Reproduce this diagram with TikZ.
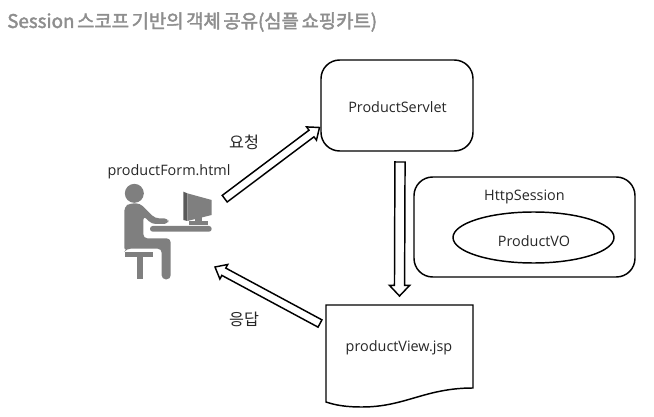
\documentclass[tikz,border=0pt]{standalone}
\usepackage{fontspec}
\usetikzlibrary{calc,shapes.geometric}
\setmainfont{Open Sans}
\newfontfamily\krfont{Noto Sans CJK KR}
\newfontfamily\krtitle[FakeBold=2.2]{Noto Sans CJK KR}
\definecolor{icongray}{HTML}{7F7F7F}
\definecolor{icondark}{HTML}{5A5A5A}
\definecolor{titlegray}{HTML}{8E8E8E}
\tikzset{
  box/.style={draw=black,line width=1.1pt,rounded corners=14pt,inner sep=0pt},
  lbl/.style={font=\fontsize{10.8pt}{12pt}\selectfont,text=black!85,inner sep=0pt},
  krlbl/.style={font=\krfont\fontsize{12.2pt}{13pt}\selectfont,text=black!85,inner sep=0pt},
  blockarrow/.style={draw=black,line width=1.1pt,fill=white,line join=miter},
  iconfill/.style={fill=icongray,draw=none}
}
\newcommand{\blockarrow}[4]{%
  \coordinate (hb) at ($(#2)!#4!(#1)$);
  \draw[blockarrow]
    ($(#1)!#3!90:(#2)$) -- ($(hb)!#3!-90:(#1)$) -- ($(hb)!2*#3!-90:(#1)$) -- (#2)
    -- ($(hb)!2*#3!90:(#1)$) -- ($(hb)!#3!90:(#1)$) -- ($(#1)!#3!-90:(#2)$) -- cycle;
}
\begin{document}
\begin{tikzpicture}[x=0.75pt,y=-0.75pt]
\useasboundingbox (0,0) rectangle (654,417);
% title
\node[anchor=west,inner sep=0pt,text=titlegray,font=\krtitle\fontsize{14.1pt}{16pt}\selectfont] (title) at (7,22) {\spaceskip=0.14em Session 스코프 기반의 객체 공유(심플 쇼핑카트)};
% boxes
\node[box,minimum width=114pt,minimum height=68.25pt] (servlet) at (397,105.5) {};
\node[lbl] (servletlbl) at (397.5,107) {ProductServlet};
\node[box,minimum width=165.75pt,minimum height=75pt] (session) at (524.5,227) {};
\node[lbl] (sessionlbl) at (524.5,197) {HttpSession};
\node[draw=black,line width=1.1pt,ellipse,minimum width=120.75pt,minimum height=38.25pt,inner sep=0pt] (vo) at (533.5,237.5) {};
\node[lbl] (volbl) at (534,241) {ProductVO};
% document
\coordinate (dtl) at (326,305);
\coordinate (dtr) at (473,305);
\coordinate (dbr) at (473,388);
\coordinate (dbl) at (326,402);
\draw[black,line width=1.1pt,line join=miter] (dtl) -- (dtr) -- (dbr)
  .. controls (425,388) and (405,407) .. (362,407)
  .. controls (345,407) and (335,405) .. (dbl) -- cycle;
\node[lbl] (viewlbl) at (399,348) {productView.jsp};
% labels
\node[lbl] (formlbl) at (169,172) {productForm.html};
\node[krlbl] (reqlbl) at (244,142) {요청};
\node[krlbl] (reslbl) at (244,319) {응답};
% block arrows
\coordinate (a1s) at (224.7,198.7);
\coordinate (a1e) at (319.5,127.5);
\coordinate (a2s) at (320,323.5);
\coordinate (a2e) at (215,267);
\coordinate (a3s) at (400,162);
\coordinate (a3e) at (399.5,296);
\blockarrow{a1s}{a1e}{3.1pt}{7.5pt}
\blockarrow{a2s}{a2e}{3.1pt}{7.5pt}
\blockarrow{a3s}{a3e}{3.8pt}{8pt}
% person icon (drawn directly)
\begin{scope}[shift={(90,150)},x=0.25pt,y=-0.25pt]
  \fill[iconfill] (133,130) circle[radius=28.5];
  \fill[iconfill,rounded corners=3pt] (103,305) -- (103,170) -- (120,160) -- (150,160) -- (195,205) -- (235,205) -- (235,222) -- (185,222) -- (160,197) -- (160,265) -- (242,265) -- (242,388) -- (215,388) -- (215,296) -- (110,296) -- cycle;
  \fill[iconfill] (105,306) rectangle (190,321);
  \fill[iconfill] (140,321) rectangle (158,388);
  \fill[iconfill,rounded corners=2pt] (180,228) rectangle (365,245);
  \fill[icondark] (280,125) -- (292,130) -- (292,213) -- (280,210) -- cycle;
  \fill[iconfill] (292,130) -- (365,150) -- (365,195) -- (292,213) -- cycle;
  \fill[iconfill] (315,200) rectangle (335,215);
  \fill[iconfill] (298,213) rectangle (355,224);
\end{scope}
\end{tikzpicture}
\end{document}
